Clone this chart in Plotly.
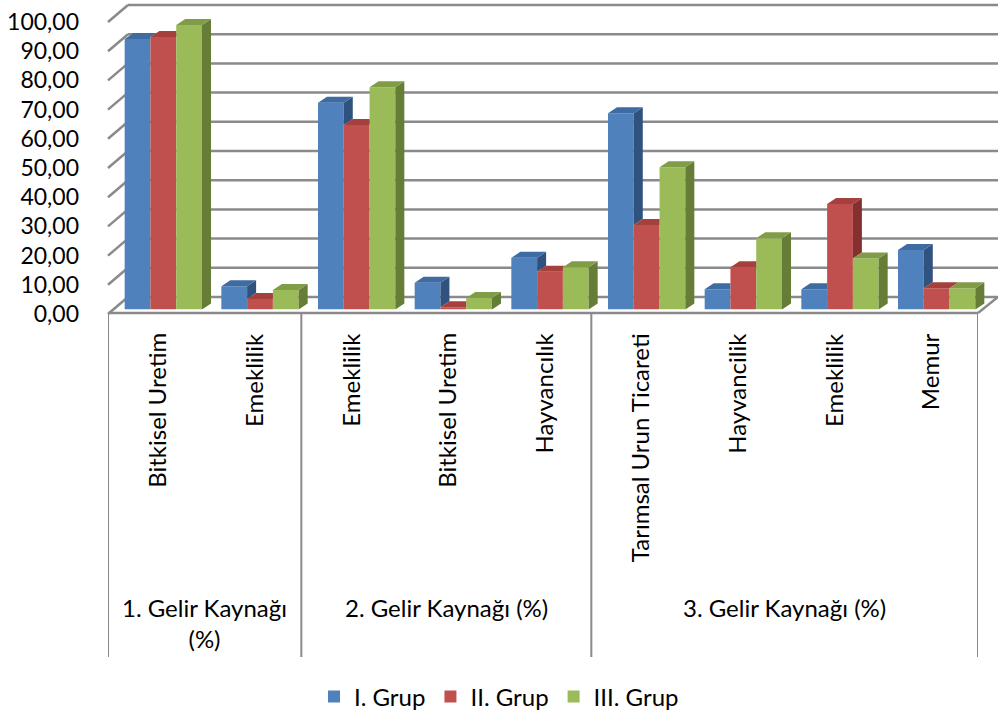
import plotly.graph_objects as go

# ---------------- data ----------------
groups = ["1. Gelir Kaynağı<br>(%)", "2. Gelir Kaynağı (%)", "3. Gelir Kaynağı (%)"]
group_sizes = [2, 3, 4]
categories = ["Bitkisel Uretim", "Emeklilik",
              "Emeklilik", "Bitkisel Uretim", "Hayvancılık",
              "Tarımsal Urun Ticareti", "Hayvancilik", "Emeklilik", "Memur"]
series_names = ["I. Grup", "II. Grup", "III. Grup"]
grup1 = [92.6, 8.0, 70.8, 9.2, 17.7, 67.2, 6.9, 6.9, 20.4]
grup2 = [93.3, 3.6, 63.2, 0.8, 12.9, 28.9, 14.5, 36.1, 7.3]
grup3 = [97.4, 6.7, 76.1, 3.9, 14.5, 48.7, 24.4, 17.5, 7.3]
y_ticks = [0, 10, 20, 30, 40, 50, 60, 70, 80, 90, 100]

series = [grup1, grup2, grup3]
front_colors = ["#4F81BD", "#C0504D", "#9BBB59"]
top_colors = ["#3F6BA3", "#A6403D", "#819C47"]
side_colors = ["#30527F", "#83302E", "#667D37"]

W, H = 998, 715
FONT = "Lato"
FS = 24
TFS = 23
GRID = "#8A8A8A"


def px(xp):
    return xp / W


def py(yp):
    return 1 - yp / H


n = len(categories)
xs = list(range(n))

# depth of the 3D boxes (in data units of the bar axes)
DX = 9 / (870 / 9.0)      # ~9 px horizontally
DY = 6 / 2.92             # ~6 px vertically
BW = 0.8 / 3

fig = go.Figure()

# bars (front faces)
for k, (name, vals) in enumerate(zip(series_names, series)):
    fig.add_trace(go.Bar(
        x=xs, y=vals, name=name, marker=dict(color=front_colors[k], line=dict(width=0)),
        xaxis="x2", yaxis="y2", hoverinfo="skip"))

# side and top faces computed from the data
for k in range(3):
    sx, sy, tx, ty = [], [], [], []
    for i in range(n):
        v = series[k][i]
        x0 = i - 0.4 + k * BW
        x1 = x0 + BW
        vn = series[k + 1][i] if k < 2 else None
        # top face
        if vn is None or vn <= v:
            tx += [x0, x1, x1 + DX, x0 + DX, x0, None]
            ty += [v, v, v + DY, v + DY, v, None]
        else:
            c = min(vn, v + DY)
            tx += [x0, x1, x1, x1 + (v + DY - c) * DX / DY, x0 + DX, x0, None]
            ty += [v, v, c, v + DY, v + DY, v, None]
        # side face
        if vn is None:
            sx += [x1, x1, x1 + DX, x1 + DX, x1, None]
            sy += [0, v, v + DY, DY, 0, None]
        elif vn < v:
            sx += [x1, x1, x1 + DX, x1 + DX, x1, None]
            sy += [vn, v, v + DY, vn + DY, vn, None]
    fig.add_trace(go.Scatter(x=sx, y=sy, fill="toself", mode="lines", line=dict(width=0),
                             fillcolor=side_colors[k], showlegend=False, hoverinfo="skip",
                             xaxis="x2", yaxis="y2"))
    fig.add_trace(go.Scatter(x=tx, y=ty, fill="toself", mode="lines", line=dict(width=0),
                             fillcolor=top_colors[k], showlegend=False, hoverinfo="skip",
                             xaxis="x2", yaxis="y2"))

# geometry (pixels)
BACK_X = (128, 998)
BACK_Y = (297, 5)
BAR_X = (115, 985)
BAR_Y = (309.5, 17.5)
FRONT_X = (108, 978)
FRONT_Y = (314, 22)


def yf(v):
    return py(FRONT_Y[0] + (FRONT_Y[1] - FRONT_Y[0]) * v / 100)


def yb(v):
    return py(BACK_Y[0] + (BACK_Y[1] - BACK_Y[0]) * v / 100)


shapes = []
for v in y_ticks:
    # back wall gridline
    shapes.append(dict(type="line", xref="paper", yref="paper", layer="below",
                       x0=px(BACK_X[0]), y0=yb(v), x1=px(BACK_X[1]), y1=yb(v),
                       line=dict(color=GRID, width=2.5)))
    # side wall diagonal
    shapes.append(dict(type="line", xref="paper", yref="paper", layer="below",
                       x0=px(FRONT_X[0]), y0=yf(v), x1=px(BACK_X[0]), y1=yb(v),
                       line=dict(color=GRID, width=2.5)))
# floor edges
shapes.append(dict(type="line", xref="paper", yref="paper", layer="below",
                   x0=px(FRONT_X[0]), y0=py(313), x1=px(FRONT_X[1]), y1=py(313),
                   line=dict(color=GRID, width=2.5)))
shapes.append(dict(type="line", xref="paper", yref="paper", layer="below",
                   x0=px(FRONT_X[1]), y0=py(313), x1=px(BACK_X[1]), y1=yb(0),
                   line=dict(color=GRID, width=2.5)))
# category box dividers
bounds = [0]
for s in group_sizes:
    bounds.append(bounds[-1] + s)
for b in bounds:
    shapes.append(dict(type="line", xref="x3", yref="paper",
                       x0=b - 0.5, x1=b - 0.5, y0=py(313), y1=py(657),
                       line=dict(color=GRID, width=2)))

annotations = []
for i, c in enumerate(categories):
    annotations.append(dict(x=i, xref="x3", y=py(331), yref="paper", text=c,
                            textangle=-90, showarrow=False, xanchor="center", yanchor="top",
                            font=dict(family=FONT, size=FS, color="black")))
for g, name in enumerate(groups):
    center = (bounds[g] + bounds[g + 1] - 1) / 2
    annotations.append(dict(x=center, xref="x3", y=py(591), yref="paper", text=name,
                            showarrow=False, xanchor="center", yanchor="top",
                            font=dict(family=FONT, size=FS, color="black")))

fig.update_layout(
    width=W, height=H,
    margin=dict(l=0, r=0, t=0, b=0, autoexpand=False),
    paper_bgcolor="white", plot_bgcolor="rgba(0,0,0,0)",
    separators=", ",
    barmode="group", bargap=0.2, bargroupgap=0,
    font=dict(family=FONT, size=FS, color="black"),
    showlegend=True,
    legend=dict(orientation="h", x=0.5, xanchor="center", y=py(697), yanchor="middle",
                font=dict(family=FONT, size=FS, color="black"), itemwidth=30,
                traceorder="normal"),
    # bars
    xaxis2=dict(domain=[px(BAR_X[0]), px(BAR_X[1])], range=[-0.5, n - 0.5], visible=False,
                anchor="y2", automargin=False),
    yaxis2=dict(domain=[py(BAR_Y[0]), py(BAR_Y[1])], range=[0, 100], visible=False,
                anchor="x2", automargin=False),
    # front plane (labels)
    xaxis3=dict(domain=[px(FRONT_X[0]), px(FRONT_X[1])], range=[-0.5, n - 0.5],
                visible=False, anchor="y3", automargin=False),
    yaxis3=dict(domain=[py(FRONT_Y[0]), py(FRONT_Y[1])], range=[0, 100], tickvals=y_ticks,
                tickformat=".2f", showgrid=False, zeroline=False, showline=False,
                ticks="", ticklabelstandoff=28, anchor="x3", automargin=False,
                tickfont=dict(family=FONT, size=TFS, color="black")),
    shapes=shapes,
    annotations=annotations,
)

fig.write_html("out.html")
